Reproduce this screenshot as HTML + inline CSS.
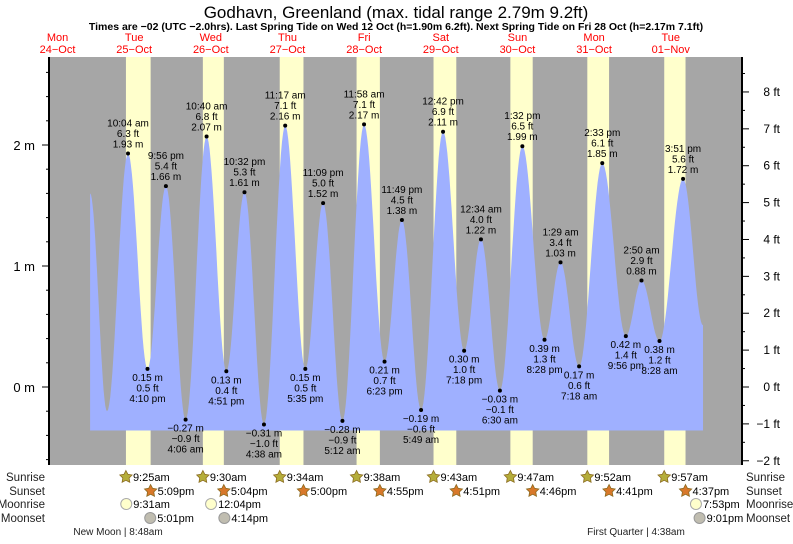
<!DOCTYPE html>
<html><head><meta charset="utf-8"><style>
body{margin:0;background:#fff;font-family:"Liberation Sans",sans-serif}
svg text{font-family:"Liberation Sans",sans-serif}
</style></head><body>
<svg id="c" width="793" height="539" xmlns="http://www.w3.org/2000/svg">
<text x="396" y="18" font-size="17" text-anchor="middle" fill="#000">Godhavn, Greenland (max. tidal range 2.79m 9.2ft)</text>
<text x="396" y="30" font-size="10.5" font-weight="bold" text-anchor="middle">Times are −02 (UTC −2.0hrs). Last Spring Tide on Wed 12 Oct (h=1.90m 6.2ft). Next Spring Tide on Fri 28 Oct (h=2.17m 7.1ft)</text>
<g id="g"></g>
</svg>
<script>
const dayNames=["Mon","Tue","Wed","Thu","Fri","Sat","Sun","Mon","Tue"];
const dayDates=["24−Oct","25−Oct","26−Oct","27−Oct","28−Oct","29−Oct","30−Oct","31−Oct","01−Nov"];
// tide extremes: hours since 24-Oct 00:00, metres, labels
const tideHours=[22.2,27.5,34.07,40.17,45.93,52.1,58.67,64.85,70.53,76.63,83.28,89.58,95.15,101.2,107.97,114.38,119.82,125.82,132.7,139.3,144.57,150.5,157.53,164.47,169.48,175.3,182.55,189.93,194.83,200.47,207.85,214.1];
const tideHeights=[1.6,-0.2,1.93,0.15,1.66,-0.27,2.07,0.13,1.61,-0.31,2.16,0.15,1.52,-0.28,2.17,0.21,1.38,-0.19,2.11,0.30,1.22,-0.03,1.99,0.39,1.03,0.17,1.85,0.42,0.88,0.38,1.72,0.51];
const tideTimes=["","","10:04 am","4:10 pm","9:56 pm","4:06 am","10:40 am","4:51 pm","10:32 pm","4:38 am","11:17 am","5:35 pm","11:09 pm","5:12 am","11:58 am","6:23 pm","11:49 pm","5:49 am","12:42 pm","7:18 pm","12:34 am","6:30 am","1:32 pm","8:28 pm","1:29 am","7:18 am","2:33 pm","9:56 pm","2:50 am","8:28 am","3:51 pm",""];
// sun / moon (hours since 24-Oct 00:00)
const sunriseHours=[33.42,57.5,81.57,105.63,129.72,153.78,177.87,201.95];
const sunriseLabels=["9:25am","9:30am","9:34am","9:38am","9:43am","9:47am","9:52am","9:57am"];
const sunsetHours=[41.15,64.07,89.0,112.92,136.85,160.77,184.68,208.62];
const sunsetLabels=["5:09pm","5:04pm","5:00pm","4:55pm","4:51pm","4:46pm","4:41pm","4:37pm"];
const moonriseHours=[33.52,60.07,211.88];
const moonriseLabels=["9:31am","12:04pm","7:53pm"];
const moonsetHours=[41.02,64.23,213.02];
const moonsetLabels=["5:01pm","4:14pm","9:01pm"];
const mTicks=[0,1,2];
const ftTicks=[-2,-1,0,1,2,3,4,5,6,7,8];

const NS="http://www.w3.org/2000/svg";
const g=document.getElementById('g');
const X0=19.2,PXH=3.194,Y0=387,PXM=121;
const L=49,R=742,T=57,B=465;
function x(h){return X0+h*PXH;}
function y(m){return Y0-m*PXM;}
function el(t,a,txt){const e=document.createElementNS(NS,t);for(const k in a)e.setAttribute(k,a[k]);if(txt!==undefined)e.textContent=txt;g.appendChild(e);return e;}

let e=el('rect',{x:L,y:T,width:R-L,height:B-T,fill:'#a6a6a6'});

for(let i=0;i<sunriseHours.length;i++){
  e=el('rect',{x:x(sunriseHours[i]),y:T,width:x(sunsetHours[i])-x(sunriseHours[i]),height:B-T,fill:'#ffffcc'});
  
}
let d='M'+x(tideHours[0])+','+y(-0.36)+' L'+x(tideHours[0])+','+y(tideHeights[0]);
for(let i=0;i<tideHours.length-1;i++){
  const h0=tideHours[i],h1=tideHours[i+1],a=tideHeights[i],b=tideHeights[i+1];
  for(let s=1;s<=20;s++){const f=s/20;const hh=h0+(h1-h0)*f;const v=a+(b-a)*(1-Math.cos(Math.PI*f))/2;d+=' L'+x(hh).toFixed(1)+','+y(v).toFixed(1);}
}
d+=' L'+x(tideHours[tideHours.length-1])+','+y(-0.36)+'Z';
e=el('path',{d:d,fill:'#9fb0ff'});

for(let i=0;i<tideHours.length;i++){
  if(!tideTimes[i])continue;
  const px=x(tideHours[i]),py=y(tideHeights[i]);
  const hi=tideHeights[i]>tideHeights[i-1];
  e=el('circle',{cx:px,cy:py,r:2,fill:'#000'});
  
  const ft=(tideHeights[i]/0.3048).toFixed(1).replace('-','−');
  const m=tideHeights[i].toFixed(2).replace('-','−')+' m';
  const lines=hi?[tideTimes[i],ft+' ft',m]:[m,ft+' ft',tideTimes[i]];
  const by=hi?py-27:py+12;
  lines.forEach((s,k)=>{e=el('text',{x:px,y:by+k*10.5,'font-size':10,'text-anchor':'middle',fill:'#000'},s);
    });
}
e=el('line',{x1:L,y1:T,x2:L,y2:B,stroke:'#000','stroke-width':2});

e=el('line',{x1:R,y1:T,x2:R,y2:B,stroke:'#000','stroke-width':2});

for(let v=-0.6;v<=2.7;v+=0.2){const yy=y(v);if(yy<T||yy>B)continue;el('line',{x1:L,y1:yy,x2:L-3,y2:yy,stroke:'#000'});}
mTicks.forEach(v=>{el('line',{x1:L,y1:y(v),x2:L-7,y2:y(v),stroke:'#000'});
  e=el('text',{x:35,y:y(v)+5,'font-size':13,'text-anchor':'end'},v+' m');
  });
for(let v=-2;v<=8.5;v+=0.5){const yy=y(v*0.3048);el('line',{x1:R,y1:yy,x2:R+(v%1===0?7:3),y2:yy,stroke:'#000'});}
ftTicks.forEach(v=>{e=el('text',{x:780,y:y(v*0.3048)+4,'font-size':12,'text-anchor':'end'},String(v).replace('-','−')+' ft');
  });
dayNames.forEach((n,i)=>{const px=x(i*24+12);
  e=el('text',{x:px,y:41,'font-size':11,'text-anchor':'middle',fill:'#ff0000'},n);
  
  e=el('text',{x:px,y:53,'font-size':11,'text-anchor':'middle',fill:'#ff0000'},dayDates[i]);
  });
[['Sunrise',477],['Sunset',491],['Moonrise',504],['Moonset',518]].forEach(([t,yy])=>{
  e=el('text',{x:45,y:yy+4,'font-size':11.5,'text-anchor':'end',fill:'#222'},t);
  
  e=el('text',{x:746,y:yy+4,'font-size':11.5,fill:'#222'},t);
  });
function star(cx,cy,fill){let p='';for(let k=0;k<10;k++){const r=k%2?3.3:6.5;const a=-Math.PI/2+k*Math.PI/5;p+=(cx+r*Math.cos(a)).toFixed(1)+','+(cy+r*Math.sin(a)).toFixed(1)+' ';}
  return el('polygon',{points:p,fill:fill,stroke:'#8a6a20','stroke-width':0.8});}
sunriseHours.forEach((h,i)=>{const px=x(h);e=star(px,477,'#b5ad3a');
  e=el('text',{x:px+7,y:481,'font-size':11},sunriseLabels[i]);});
sunsetHours.forEach((h,i)=>{const px=x(h);e=star(px,491,'#d8782a');
  e=el('text',{x:px+7,y:495,'font-size':11},sunsetLabels[i]);});
moonriseHours.forEach((h,i)=>{const px=x(h);e=el('circle',{cx:px,cy:504,r:5.5,fill:'#ffffcc',stroke:'#aaa'});
  e=el('text',{x:px+7,y:508,'font-size':11},moonriseLabels[i]);});
moonsetHours.forEach((h,i)=>{const px=x(h);e=el('circle',{cx:px,cy:518,r:5.5,fill:'#c0bdb0',stroke:'#999'});
  e=el('text',{x:px+7,y:522,'font-size':11},moonsetLabels[i]);});
e=el('text',{x:118,y:535,'font-size':10,'text-anchor':'middle',fill:'#222'},'New Moon | 8:48am');

e=el('text',{x:636,y:535,'font-size':10,'text-anchor':'middle',fill:'#222'},'First Quarter | 4:38am');

</script>
</body></html>
